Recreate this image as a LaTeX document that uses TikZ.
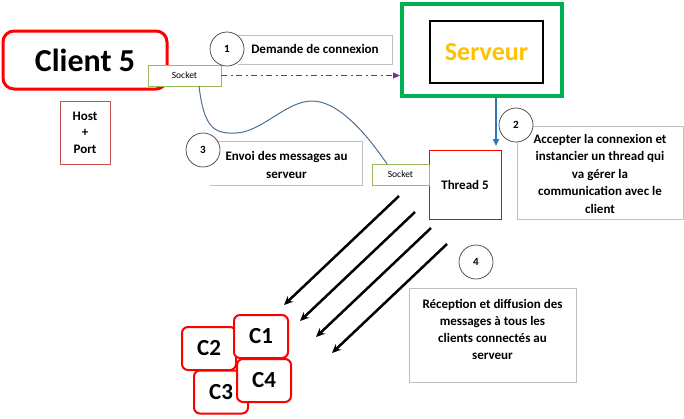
\documentclass[tikz,border=0pt]{standalone}
\usepackage{fontspec}
\setmainfont{Carlito}
\usetikzlibrary{arrows.meta,calc}
\definecolor{cred}{HTML}{FF0000}
\definecolor{hostred}{HTML}{C0504D}
\definecolor{sockgreen}{HTML}{9BBB59}
\definecolor{srvgreen}{HTML}{00B050}
\definecolor{srvgold}{HTML}{FFC000}
\definecolor{boxgrey}{HTML}{BFBFBF}
\definecolor{circgrey}{HTML}{404040}
\definecolor{dashpurple}{HTML}{7030A0}
\definecolor{arrowblue}{HTML}{2E75B6}
\definecolor{curveblue}{HTML}{4F6F93}
\begin{document}
\begin{tikzpicture}[x=1pt,y=-1pt,
  bodyfont/.style={font=\bfseries\fontsize{13}{17.5}\selectfont},
  txtbox/.style={draw=boxgrey, line width=0.8pt, fill=white, inner sep=0pt},
  numcirc/.style={circle, draw=circgrey, line width=0.7pt, fill=white, minimum size=34pt, inner sep=0pt, font=\bfseries\fontsize{11}{13}\selectfont},
  sockbox/.style={draw=sockgreen, line width=0.9pt, fill=white, inner sep=0pt, font=\fontsize{9.5}{11}\selectfont},
  cbox/.style={draw=cred, line width=2pt, rounded corners=6pt, fill=white, minimum width=54pt, minimum height=43pt, inner sep=0pt, font=\bfseries\fontsize{23}{26}\selectfont},
  bigarrow/.style={line width=2.5pt, -{Stealth[length=9pt,width=8pt]}}
]
\useasboundingbox (0,0) rectangle (684,418);

% Client 5
\node[draw=cred, line width=3pt, rounded corners=11pt, minimum width=164pt, minimum height=58pt, inner sep=0pt, font=\bfseries\fontsize{32}{34}\selectfont] (client) at (85,60) {Client 5};
\node[sockbox, minimum width=73pt, minimum height=21pt] (sockc) at (184.5,75.5) {Socket};
\node[draw=hostred, line width=0.9pt, minimum width=50pt, minimum height=63pt, inner sep=0pt, align=center, font=\bfseries\fontsize{13}{16.5}\selectfont] (host) at (85,132.5) {Host\\+\\Port};

% Step 1
\node[minimum width=154pt, minimum height=28pt, inner sep=0pt] (box1) at (315,50) {};
\draw[boxgrey, line width=0.8pt] (box1.north west) -- (box1.north east) -- (box1.south east) -- (box1.south west);
\node[bodyfont] at (315,49) {Demande de connexion};
\node[numcirc] (n1) at (227,49) {1};

% Serveur
\node[draw=srvgreen, line width=4pt, minimum width=160pt, minimum height=92pt, inner sep=0pt] (serveur) at (482,50) {};
\node[draw=black, line width=2.5pt, minimum width=113pt, minimum height=62pt, inner sep=0pt, text=srvgold, font=\bfseries\fontsize{26}{30}\selectfont] (srvin) at (486.5,52) {Serveur};

% Connection request arrow
\draw[dashpurple, line width=1.1pt, dash pattern=on 6pt off 3.5pt on 2pt off 3.5pt, -{Triangle[length=7pt,width=6pt]}] (sockc.east) -- (sockc.east -| serveur.west);

% Thread 5
\node[draw=cred, line width=0.9pt, minimum width=72pt, minimum height=69pt, inner sep=0pt, bodyfont, text depth=-5pt] (thread) at (465,184.5) {Thread 5};
\node[sockbox, minimum width=57pt, minimum height=21pt] (sockt) at (400.5,174.5) {Socket};

% Step 2
\coordinate (a2s) at (496,98);
\coordinate (a2e) at (496,146);
\draw[arrowblue, line width=1.6pt, -{Triangle[length=7pt,width=6pt]}] (a2s) -- (a2e);
\node[txtbox, minimum width=166pt, minimum height=93pt] (box2) at (600,172.5) {};
\node[bodyfont, align=center] at (600,173.5) {Accepter la connexion et\\instancier un thread qui\\va gérer la\\communication avec le\\client};
\node[numcirc] (n2) at (516,125) {2};

% Curve socket to socket
\coordinate (cs) at (199,86);
\coordinate (ce) at (387,164);
\draw[curveblue, line width=1pt] (cs) .. controls (204,128) and (214,134) .. (236,133)
  .. controls (262,132) and (286,101) .. (312,101)
  .. controls (338,101) and (366,133) .. (ce);

% Step 3
\node[minimum width=152pt, minimum height=43pt, inner sep=0pt] (box3) at (286,163.5) {};
\draw[boxgrey, line width=0.8pt] (box3.north west) -- (box3.north east) -- (box3.south east) -- (box3.south west);
\node[bodyfont, align=center] at (286.5,165) {Envoi des messages au\\serveur};
\node[numcirc] (n3) at (203,150) {3};

% Broadcast arrows
\coordinate (b1s) at (399,196); \coordinate (b1e) at (284,305);
\coordinate (b2s) at (415,212); \coordinate (b2e) at (300,321);
\coordinate (b3s) at (431,228); \coordinate (b3e) at (316,337);
\coordinate (b4s) at (447,244); \coordinate (b4e) at (332,353);
\draw[bigarrow] (b1s) -- (b1e);
\draw[bigarrow] (b2s) -- (b2e);
\draw[bigarrow] (b3s) -- (b3e);
\draw[bigarrow] (b4s) -- (b4e);

% Clients
\node[cbox] (c2) at (209,348.5) {C2};
\node[cbox] (c3) at (221,392) {C3};
\node[cbox] (c1) at (261,336.5) {C1};
\node[cbox] (c4) at (264,380.5) {C4};

% Step 4
\node[numcirc] (n4) at (476,262) {4};
\node[txtbox, minimum width=167pt, minimum height=94pt] (box4) at (492.5,335) {};
\node[align=center, font=\bfseries\fontsize{13}{17}\selectfont] at (492.5,329) {Réception et diffusion des\\messages à tous les\\clients connectés au\\serveur};
\end{tikzpicture}
\end{document}
